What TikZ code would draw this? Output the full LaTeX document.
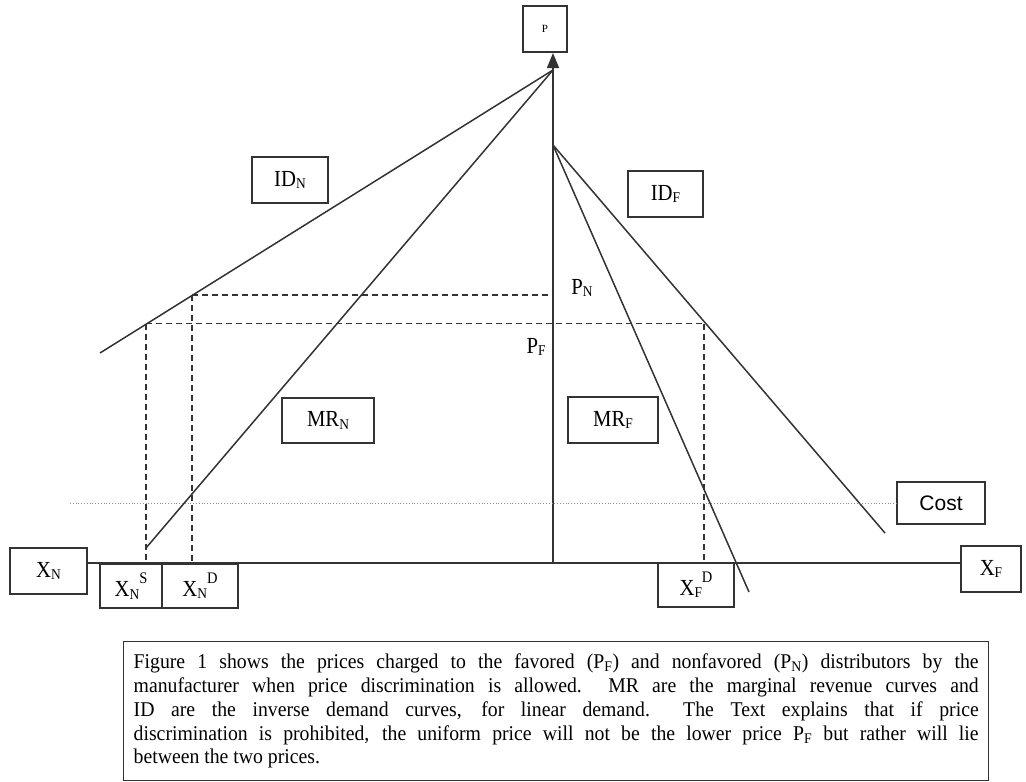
\documentclass[tikz,border=0pt]{standalone}
\usepackage{fontspec}
\setmainfont{Liberation Serif}
\newfontfamily\lblfont[FakeStretch=0.9]{Liberation Serif}
\newfontfamily\capfont[FakeStretch=0.94]{Liberation Serif}
\newfontfamily\costfont{Liberation Sans}
\usetikzlibrary{arrows.meta}
\definecolor{ink}{HTML}{333333}
\newcommand{\lowr}[1]{\raisebox{-0.12em}{\scalebox{0.65}{#1}}}
\newcommand{\highr}[1]{\raisebox{0.55em}{\scalebox{0.7}{#1}}}

\begin{document}
\begin{tikzpicture}[x=1pt, y=-1pt,
    lblbox/.style={draw=ink, line width=1.4pt, inner sep=0pt,
      minimum height=46pt, font=\lblfont\fontsize{23}{26}\selectfont},
    curve/.style={draw=ink, line width=1.5pt},
    guide/.style={draw=ink, line width=1.5pt, dash pattern=on 6pt off 4pt},
    costline/.style={draw=black!45, line width=0.8pt, dotted}]
    \useasboundingbox (0,0) rectangle (1026,782);
    %points
    \coordinate (top) at (553,53);
    \coordinate (apex) at (553,70);
    \coordinate (kink) at (553,145);
    \coordinate (o) at (553,563);
    \coordinate (idnend) at (100,353);
    \coordinate (mrnend) at (146,548);
    \coordinate (idfend) at (885,533);
    \coordinate (mrfend) at (749,592);
    \coordinate (qn) at (192,295);
    \coordinate (qs) at (146,323.5);
    \coordinate (qf) at (704,323.5);
    %labels
    \node[lblbox, minimum width=44pt, font=\fontsize{11}{12}\selectfont] (pbox) at (545,29) {P};
    \node[lblbox, minimum width=77pt] (xn) at (48.5,571) {X\lowr{N}};
    \node[lblbox, minimum width=62pt, minimum height=44pt] (xns) at (131,586) {X\lowr{N}\highr{S}};
    \node[lblbox, minimum width=76pt, minimum height=44pt] (xnd) at (200,586) {X\lowr{N}\highr{D}};
    \node[lblbox, minimum width=76pt, minimum height=44pt] (xfd) at (696,585) {X\lowr{F}\highr{D}};
    \node[lblbox, minimum width=60pt] (xf) at (991,569) {X\lowr{F}};
    \node[lblbox, minimum width=88pt, minimum height=42pt, font=\costfont\fontsize{21}{24}\selectfont] (cost) at (941,503) {Cost};
    \node[lblbox, minimum width=76pt] (idn) at (290,180) {ID\lowr{N}};
    \node[lblbox, minimum width=75pt] (idf) at (665.5,194) {ID\lowr{F}};
    \node[lblbox, minimum width=92pt, minimum height=45pt] (mrn) at (328,420.5) {MR\lowr{N}};
    \node[lblbox, minimum width=90pt] (mrf) at (613,420) {MR\lowr{F}};
    \node[font=\lblfont\fontsize{23}{26}\selectfont] (pn) at (582,288) {P\lowr{N}};
    \node[font=\lblfont\fontsize{23}{26}\selectfont] (pf) at (536,347) {P\lowr{F}};
    %axes and curves
    \draw[curve] (xn.east |- o) -- (xf.west |- o);
    \draw[curve, -{Triangle[length=15pt,width=12pt]}] (o) -- (top);
    \draw[curve] (idnend) -- (apex);
    \draw[curve] (mrnend) -- (apex);
    \draw[curve] (kink) -- (mrfend);
    \draw[curve] (kink) -- (idfend);
    %prices and quantities
    \draw[guide] (qn) -- (qn -| o);
    \draw[guide] (qs) -- (qf);
    \draw[guide] (qn) -- (qn |- o);
    \draw[guide] (qs) -- (qs |- o);
    \draw[guide] (qf) -- (qf |- o);
    \draw[costline] (70,503) -- (cost.west);
    %caption
    \node[draw=ink, line width=1.4pt, text width=845pt, minimum height=139pt, inner xsep=10pt,
      align=justify, anchor=north west, font=\capfont\fontsize{21}{23.8}\selectfont] (note) at (123,641)
      {Figure 1 shows the prices charged to the favored (P\textsubscript{F}) and nonfavored (P\textsubscript{N}) distributors by the\linebreak
       manufacturer when price discrimination is allowed.\ \ MR are the marginal revenue curves and\linebreak
       ID are the inverse demand curves, for linear demand.\ \ The Text explains that if price\linebreak
       discrimination is prohibited, the uniform price will not be the lower price P\textsubscript{F} but rather will lie\linebreak
       between the two prices.};
\end{tikzpicture}
\end{document}
